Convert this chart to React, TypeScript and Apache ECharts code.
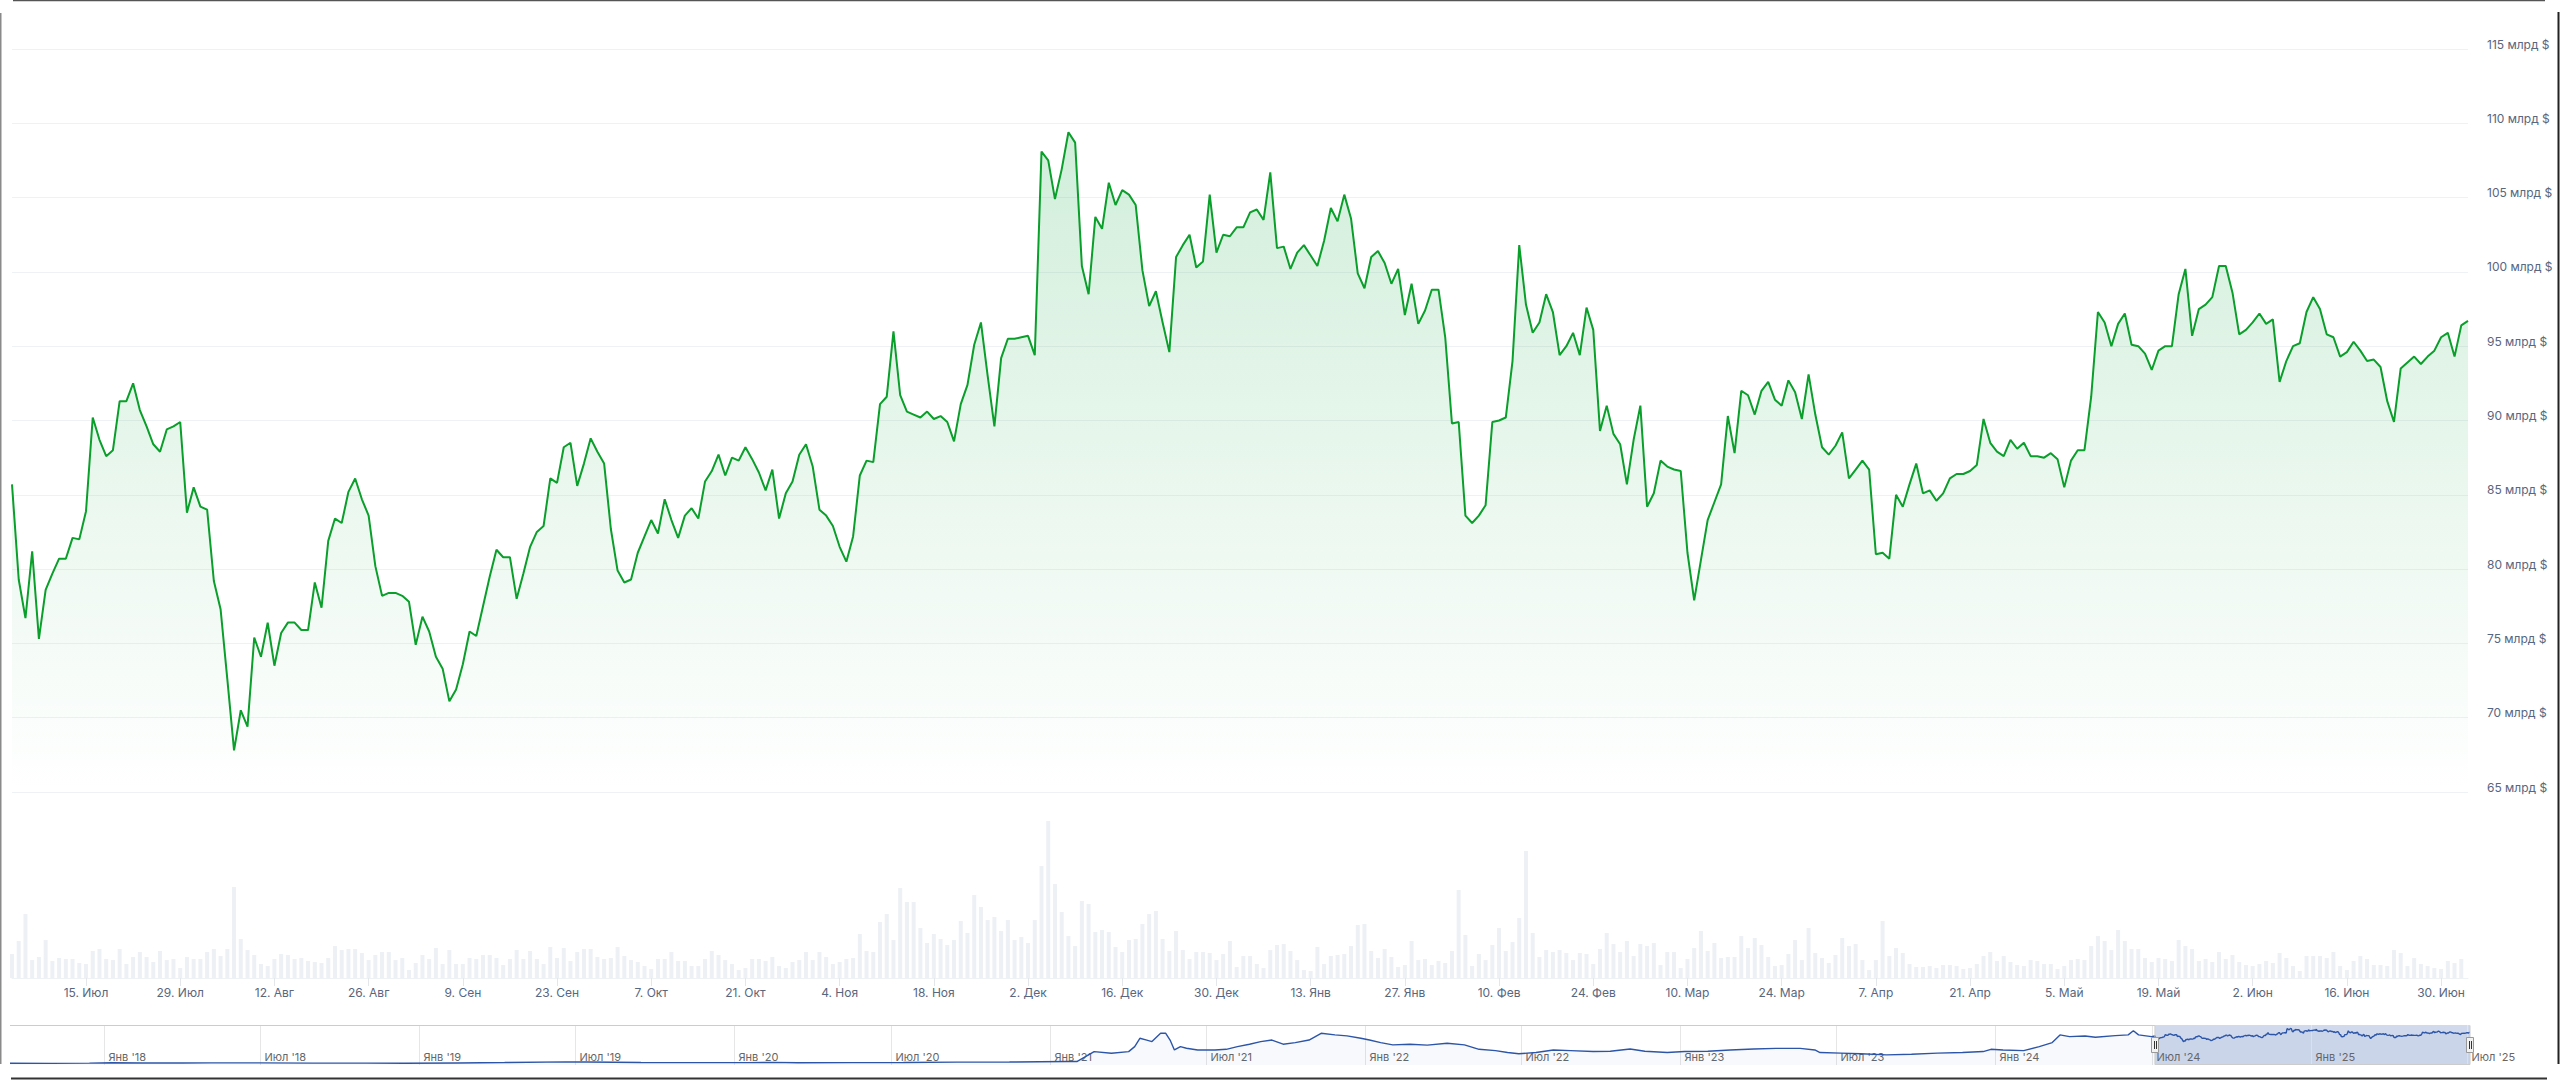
import React, { useEffect, useRef } from 'react';
import * as echarts from 'echarts';

// ---------- DATA ----------
const startDate = '2024-07-04';

// Daily market cap, billions of USD (2024-07-04 .. 2025-07-04)
const marketCapBn = [
  85.7, 79.3, 76.7, 81.2, 75.3, 78.6, 79.7, 80.7, 80.7, 82.1,
  82.0, 83.9, 90.2, 88.7, 87.6, 88.0, 91.3, 91.3, 92.5, 90.7,
  89.6, 88.4, 87.9, 89.4, 89.6, 89.9, 83.8, 85.5, 84.2, 84.0,
  79.2, 77.3, 72.6, 67.8, 70.5, 69.4, 75.4, 74.1, 76.4, 73.5,
  75.7, 76.4, 76.4, 75.9, 75.9, 79.1, 77.4, 81.9, 83.4, 83.1,
  85.2, 86.1, 84.7, 83.6, 80.2, 78.2, 78.4, 78.4, 78.2, 77.8,
  74.9, 76.8, 75.8, 74.1, 73.3, 71.1, 71.9, 73.6, 75.8, 75.5,
  77.5, 79.5, 81.3, 80.8, 80.8, 78.0, 79.7, 81.5, 82.5, 82.9,
  86.1, 85.8, 88.2, 88.5, 85.6, 87.1, 88.8, 87.9, 87.1, 82.7,
  79.9, 79.1, 79.3, 81.1, 82.2, 83.3, 82.4, 84.7, 83.3, 82.1,
  83.6, 84.1, 83.4, 85.9, 86.6, 87.7, 86.3, 87.5, 87.3, 88.2,
  87.4, 86.5, 85.3, 86.7, 83.4, 85.1, 85.9, 87.7, 88.4, 86.9,
  84.0, 83.6, 82.9, 81.5, 80.5, 82.2, 86.3, 87.3, 87.2, 91.1,
  91.6, 96.0, 91.7, 90.6, 90.4, 90.2, 90.6, 90.1, 90.3, 89.9,
  88.6, 91.1, 92.4, 95.1, 96.6, 93.0, 89.6, 94.2, 95.5, 95.5,
  95.6, 95.7, 94.4, 108.1, 107.5, 104.9, 106.9, 109.4, 108.7, 100.4,
  98.5, 103.7, 102.9, 106.0, 104.5, 105.5, 105.2, 104.5, 100.1, 97.7,
  98.7, 96.6, 94.6, 101.0, 101.8, 102.5, 100.3, 100.7, 105.2, 101.3,
  102.5, 102.4, 103.0, 103.0, 104.0, 104.2, 103.5, 106.7, 101.6, 101.7,
  100.2, 101.3, 101.8, 101.1, 100.4, 102.1, 104.3, 103.4, 105.2, 103.6,
  99.9, 98.9, 101.0, 101.4, 100.6, 99.2, 100.2, 97.1, 99.2, 96.5,
  97.4, 98.8, 98.8, 95.6, 89.8, 89.9, 83.6, 83.1, 83.6, 84.3,
  89.9, 90.0, 90.2, 94.0, 101.8, 97.8, 95.9, 96.6, 98.5, 97.3,
  94.4, 95.0, 95.9, 94.4, 97.6, 96.1, 89.3, 91.0, 89.1, 88.4,
  85.7, 88.7, 91.0, 84.2, 85.1, 87.3, 86.9, 86.7, 86.6, 81.1,
  77.9, 80.6, 83.3, 84.5, 85.7, 90.3, 87.8, 92.0, 91.7, 90.4,
  92.0, 92.6, 91.4, 91.0, 92.7, 91.9, 90.1, 93.1, 90.4, 88.2,
  87.7, 88.3, 89.2, 86.1, 86.7, 87.3, 86.7, 81.0, 81.1, 80.7,
  85.0, 84.2, 85.7, 87.1, 85.1, 85.3, 84.6, 85.1, 86.1, 86.4,
  86.4, 86.6, 87.0, 90.1, 88.5, 87.9, 87.6, 88.7, 88.1, 88.5,
  87.6, 87.6, 87.5, 87.8, 87.4, 85.5, 87.3, 88.0, 88.0, 91.6,
  97.3, 96.6, 95.0, 96.5, 97.2, 95.1, 95.0, 94.5, 93.4, 94.7,
  95.0, 95.0, 98.5, 100.2, 95.7, 97.5, 97.8, 98.3, 100.4, 100.4,
  98.6, 95.8, 96.1, 96.6, 97.2, 96.5, 96.8, 92.6, 94.0, 95.0,
  95.2, 97.3, 98.3, 97.5, 95.8, 95.6, 94.3, 94.6, 95.3, 94.7,
  94.0, 94.1, 93.6, 91.3, 89.9, 93.5, 93.9, 94.3, 93.8, 94.3,
  94.7, 95.6, 95.9, 94.3, 96.4, 96.7,
];

// Daily trading volume, relative units (2024-07-04 .. 2025-07-03)
const volumeUnits = [
  24, 37, 64, 18, 21, 38, 17, 20, 19, 19,
  15, 14, 27, 29, 19, 18, 29, 14, 21, 26,
  21, 16, 27, 18, 19, 10, 21, 19, 19, 26,
  29, 22, 29, 91, 39, 28, 23, 14, 12, 19,
  24, 23, 19, 20, 17, 16, 15, 20, 32, 28,
  29, 29, 25, 18, 23, 26, 26, 18, 20, 8,
  15, 23, 19, 30, 14, 28, 14, 14, 20, 19,
  23, 23, 20, 13, 19, 28, 19, 27, 19, 14,
  31, 20, 30, 17, 26, 29, 29, 21, 19, 20,
  31, 22, 18, 16, 12, 9, 19, 19, 26, 17,
  17, 12, 12, 19, 27, 23, 18, 14, 8, 10,
  19, 19, 17, 21, 12, 10, 16, 18, 26, 18,
  26, 21, 14, 16, 19, 20, 44, 27, 26, 56,
  64, 38, 90, 76, 76, 50, 35, 44, 39, 33,
  38, 57, 45, 83, 71, 58, 61, 47, 58, 38,
  41, 35, 58, 112, 157, 94, 66, 42, 32, 77,
  74, 46, 48, 46, 31, 26, 38, 39, 54, 64,
  67, 39, 27, 47, 28, 19, 26, 26, 25, 18,
  24, 37, 11, 22, 22, 14, 10, 28, 33, 34,
  27, 18, 8, 7, 31, 14, 22, 23, 24, 32,
  53, 54, 27, 20, 29, 21, 11, 13, 37, 18,
  19, 13, 17, 15, 27, 88, 43, 12, 24, 18,
  33, 50, 27, 36, 60, 127, 45, 21, 28, 26,
  28, 25, 18, 25, 24, 14, 29, 45, 34, 26,
  37, 22, 34, 32, 35, 13, 26, 26, 10, 19,
  30, 47, 27, 35, 20, 21, 21, 42, 30, 40,
  33, 21, 12, 13, 24, 38, 18, 50, 25, 20,
  15, 23, 40, 32, 34, 18, 8, 18, 57, 22,
  30, 25, 14, 11, 11, 12, 10, 13, 13, 12,
  9, 10, 14, 22, 26, 17, 22, 16, 13, 12,
  18, 17, 14, 14, 9, 12, 18, 19, 18, 32,
  42, 37, 28, 48, 37, 29, 29, 20, 16, 20,
  19, 17, 38, 32, 29, 17, 19, 16, 26, 19,
  23, 16, 13, 12, 14, 17, 15, 25, 20, 12,
  7, 22, 22, 22, 20, 26, 12, 8, 17, 22,
  19, 13, 13, 12, 28, 25, 12, 20, 14, 12,
  10, 9, 17, 15, 19,
];

const xTickDates = [
  '2024-07-15', '2024-07-29', '2024-08-12', '2024-08-26', '2024-09-09', '2024-09-23',
  '2024-10-07', '2024-10-21', '2024-11-04', '2024-11-18', '2024-12-02', '2024-12-16',
  '2024-12-30', '2025-01-13', '2025-01-27', '2025-02-10', '2025-02-24', '2025-03-10',
  '2025-03-24', '2025-04-07', '2025-04-21', '2025-05-05', '2025-05-19', '2025-06-02',
  '2025-06-16', '2025-06-30',
];

const monthNamesRu = ['Янв', 'Фев', 'Мар', 'Апр', 'Май', 'Июн', 'Июл', 'Авг', 'Сен', 'Окт', 'Ноя', 'Дек'];

const yAxisMin = 65;
const yAxisMax = 115;
const yAxisStep = 5;
const volumeAxisMax = 180;

// Navigator history before the selected year (billions of USD)
const navHistoryDates = [
  '2017-09-14', '2017-11-01', '2017-12-15', '2018-01-10', '2018-02-15', '2018-04-01',
  '2018-05-05', '2018-07-01', '2018-09-01', '2018-11-01', '2018-12-15', '2019-02-15',
  '2019-04-10', '2019-06-20', '2019-07-15', '2019-09-15', '2019-11-15', '2020-01-15',
  '2020-02-15', '2020-03-15', '2020-05-15', '2020-07-15', '2020-09-15', '2020-11-15',
  '2020-12-20', '2021-01-20', '2021-02-01', '2021-02-11', '2021-02-21', '2021-03-13',
  '2021-04-02', '2021-04-09', '2021-04-15', '2021-04-22', '2021-04-29', '2021-05-09',
  '2021-05-15', '2021-05-20', '2021-05-25', '2021-06-01', '2021-06-08', '2021-06-21',
  '2021-07-11', '2021-07-24', '2021-08-06', '2021-08-20', '2021-09-02', '2021-09-15',
  '2021-09-28', '2021-10-12', '2021-10-28', '2021-11-11', '2021-11-27', '2021-12-11',
  '2021-12-27', '2022-01-06', '2022-01-19', '2022-02-02', '2022-02-22', '2022-03-14',
  '2022-04-06', '2022-04-26', '2022-05-13', '2022-06-01', '2022-06-15', '2022-06-28',
  '2022-07-18', '2022-08-07', '2022-08-27', '2022-09-22', '2022-10-12', '2022-11-04',
  '2022-11-21', '2022-12-17', '2023-01-06', '2023-02-02', '2023-02-28', '2023-03-27',
  '2023-04-22', '2023-05-20', '2023-06-06', '2023-06-12', '2023-07-06', '2023-07-29',
  '2023-08-28', '2023-09-26', '2023-10-26', '2023-11-24', '2023-12-18', '2023-12-27',
  '2024-01-10', '2024-02-03', '2024-02-21', '2024-03-07', '2024-03-16', '2024-03-27',
  '2024-04-14', '2024-04-26', '2024-05-19', '2024-06-03', '2024-06-09', '2024-06-15',
  '2024-06-30',
];
const navHistoryValues = [
  0.3, 0.2, 0.8, 2.2, 1.4, 1.2,
  1.6, 1.5, 1.0, 0.9, 0.7, 1.4,
  2.6, 4.8, 4.2, 2.6, 2.4, 2.3,
  3.2, 1.8, 2.4, 2.7, 4.0, 4.3,
  5.0, 6.0, 5.8, 21, 36.9, 31.7,
  36.9, 52.5, 78.5, 73.3, 68.1, 94,
  94, 73, 42, 52.5, 47.3, 42,
  42, 44, 52.5, 60, 68, 73,
  60, 65, 73, 94, 89, 86,
  78.5, 73, 65, 58, 60, 57,
  63, 58, 44, 40, 34, 30,
  34, 42, 40, 37, 38, 45,
  38, 34, 37, 38, 42, 45,
  47, 47, 42, 34, 32, 30,
  26.5, 28.6, 32, 34, 37, 44,
  42, 40, 52.5, 65, 89, 83.6,
  85.7, 81.6, 86.8, 89, 102, 89,
  83.6,
];

const navRangeStart = '2017-09-14';
const navRangeEnd = '2025-07-04';
const navLabelDates = [
  '2018-01-01', '2018-07-01', '2019-01-01', '2019-07-01', '2020-01-01', '2020-07-01',
  '2021-01-01', '2021-07-01', '2022-01-01', '2022-07-01', '2023-01-01', '2023-07-01',
  '2024-01-01', '2024-07-01', '2025-01-01', '2025-07-01',
];

// ---------- HELPERS ----------
function toTs(s: string): number {
  const [y, m, d] = s.split('-').map(Number);
  return new Date(y, m - 1, d).getTime();
}

function buildDates(start: string, count: number): string[] {
  const [y, m, d] = start.split('-').map(Number);
  const base = Date.UTC(y, m - 1, d);
  const out: string[] = [];
  for (let i = 0; i < count; i++) {
    out.push(new Date(base + i * 86400000).toISOString().slice(0, 10));
  }
  return out;
}

const LABEL_COLOR = '#58667e';
const FONT = 'Inter, "Noto Sans", Roboto, sans-serif';

export default function App() {
  const ref = useRef<HTMLDivElement>(null);

  useEffect(() => {
    document.body.style.margin = '0';
    if (!ref.current) return;
    const chart = echarts.init(ref.current, null, { renderer: 'svg' });

    const dates = buildDates(startDate, marketCapBn.length);
    const tickSet = new Set(xTickDates);
    const showTick = (_i: number, v: string) => tickSet.has(v);

    const navData: [number, number][] = [
      ...navHistoryDates.map((d, i) => [toTs(d), navHistoryValues[i]] as [number, number]),
      ...dates.map((d, i) => [toTs(d), marketCapBn[i]] as [number, number]),
    ];

    const NAV_TOP = 1025;
    const NAV_H = 40;

    const option: any = {
      animation: false,
      backgroundColor: '#ffffff',
      grid: [
        { left: 12, right: 92, top: 49, height: 743 },
        { left: 12, right: 92, top: 978 - volumeAxisMax, height: volumeAxisMax },
        { left: 10, right: 90, top: NAV_TOP, height: NAV_H },
      ],
      xAxis: [
        {
          type: 'category', gridIndex: 0, data: dates, boundaryGap: false,
          axisLine: { show: false }, axisTick: { show: false }, axisLabel: { show: false },
          splitLine: { show: false },
        },
        {
          type: 'category', gridIndex: 1, data: dates, boundaryGap: false,
          axisLine: { show: true, lineStyle: { color: '#eff2f5', width: 1 } },
          axisTick: { show: true, interval: showTick, length: 8, lineStyle: { color: '#e3e7ec' } },
          axisLabel: {
            interval: showTick, margin: 8, color: LABEL_COLOR, fontSize: 12, fontFamily: FONT,
            formatter: (v: string) => {
              const [, m, d] = v.split('-').map(Number);
              return `${d}. ${monthNamesRu[m - 1]}`;
            },
          },
          splitLine: { show: false },
        },
        {
          type: 'time', gridIndex: 2, min: toTs(navRangeStart), max: toTs(navRangeEnd),
          show: false, splitLine: { show: false },
        },
      ],
      yAxis: [
        {
          type: 'value', gridIndex: 0, position: 'right',
          min: yAxisMin, max: yAxisMax, interval: yAxisStep,
          axisLine: { show: false }, axisTick: { show: false },
          splitLine: { show: true, lineStyle: { color: '#eff2f5', width: 1 } },
          axisLabel: {
            margin: 19, color: LABEL_COLOR, fontSize: 12, fontFamily: FONT, align: 'left',
            verticalAlign: 'bottom', lineHeight: 10,
            formatter: (v: number) => `${v} млрд $`,
          },
        },
        { type: 'value', gridIndex: 1, min: 0, max: volumeAxisMax, show: false, splitLine: { show: false } },
        { type: 'value', gridIndex: 2, min: -5, max: 120, show: false, splitLine: { show: false } },
      ],
      series: [
        {
          type: 'bar', xAxisIndex: 1, yAxisIndex: 1, data: volumeUnits, barWidth: 4,
          itemStyle: { color: '#edf0f4' }, silent: true,
        },
        {
          type: 'line', xAxisIndex: 0, yAxisIndex: 0, data: marketCapBn,
          symbol: 'none', smooth: false, z: 5,
          lineStyle: { color: '#0a9e2b', width: 2 },
          areaStyle: {
            origin: 'start',
            color: {
              type: 'linear', x: 0, y: 0, x2: 0, y2: 1,
              colorStops: [
                { offset: 0, color: 'rgba(22,170,70,0.28)' },
                { offset: 1, color: 'rgba(22,170,70,0.0)' },
              ],
            },
          },
        },
        {
          type: 'line', xAxisIndex: 2, yAxisIndex: 2, data: navData,
          symbol: 'none', z: 5,
          lineStyle: { color: '#2c55a8', width: 1.4 },
          areaStyle: { origin: 'start', color: 'rgba(51,92,173,0.05)' },
        },
      ],
    };

    chart.setOption(option);

    const px = (s: string) => chart.convertToPixel({ xAxisIndex: 2 }, toTs(s)) as number;
    const navLeft = px(navRangeStart);
    const navRight = px(navRangeEnd);
    const selStart = px(startDate);
    const selEnd = px(dates[dates.length - 1]);
    const navBottom = NAV_TOP + NAV_H;

    const graphics: any[] = [];
    // selected region mask
    graphics.push({
      type: 'rect', z: 1, silent: true,
      shape: { x: selStart, y: NAV_TOP, width: selEnd - selStart, height: NAV_H },
      style: { fill: 'rgba(102,133,194,0.3)' },
    });
    // navigator gridlines + labels
    navLabelDates.forEach((d) => {
      const x = Math.round(px(d)) + 0.5;
      const [yy, mm] = d.split('-').map(Number);
      graphics.push({
        type: 'line', z: 2, silent: true,
        shape: { x1: x, y1: NAV_TOP, x2: x, y2: navBottom },
        style: { stroke: '#e6e6e6', lineWidth: 1 },
      });
      graphics.push({
        type: 'text', z: 3, silent: true, x: x + 4, y: 1057,
        style: {
          text: `${monthNamesRu[mm - 1]} '${String(yy).slice(2)}`,
          fill: '#666666', fontSize: 11, fontFamily: FONT, align: 'left', verticalAlign: 'middle',
        },
      });
    });
    // outline
    graphics.push({
      type: 'polyline', z: 20, silent: true,
      shape: {
        points: [
          [navLeft, NAV_TOP + 0.5], [selStart, NAV_TOP + 0.5], [selStart, navBottom - 0.5],
          [selEnd, navBottom - 0.5], [selEnd, NAV_TOP + 0.5], [navRight, NAV_TOP + 0.5],
        ],
      },
      style: { stroke: '#cccccc', lineWidth: 1, fill: null },
    });
    // handles
    [selStart, selEnd].forEach((hx) => {
      const x = Math.round(hx);
      graphics.push({
        type: 'rect', z: 30, silent: true,
        shape: { x: x - 3.5, y: 1037.5, width: 7, height: 15 },
        style: { fill: '#f2f2f2', stroke: '#999999', lineWidth: 1 },
      });
      [-1, 1].forEach((o) => {
        graphics.push({
          type: 'line', z: 31, silent: true,
          shape: { x1: x + o + 0.5, y1: 1041, x2: x + o + 0.5, y2: 1049 },
          style: { stroke: '#333333', lineWidth: 1 },
        });
      });
    });
    // page frame (screenshot border)
    graphics.push(
      { type: 'line', z: 50, silent: true, shape: { x1: 13, y1: 0.5, x2: 2545, y2: 0.5 }, style: { stroke: '#555555', lineWidth: 1.5 } },
      { type: 'line', z: 50, silent: true, shape: { x1: 0.75, y1: 13, x2: 0.75, y2: 1064 }, style: { stroke: '#8a8a8a', lineWidth: 1.5 } },
      { type: 'line', z: 50, silent: true, shape: { x1: 2558.5, y1: 12, x2: 2558.5, y2: 1064 }, style: { stroke: '#222222', lineWidth: 2 } },
      { type: 'line', z: 50, silent: true, shape: { x1: 11, y1: 1078.5, x2: 2547, y2: 1078.5 }, style: { stroke: '#333333', lineWidth: 2 } },
    );

    chart.setOption({ graphic: graphics });

    return () => {
      chart.dispose();
    };
  }, []);

  return (
    <div
      ref={ref}
      style={{ position: 'absolute', left: 0, top: 0, width: 2560, height: 1080, background: '#ffffff' }}
    />
  );
}
